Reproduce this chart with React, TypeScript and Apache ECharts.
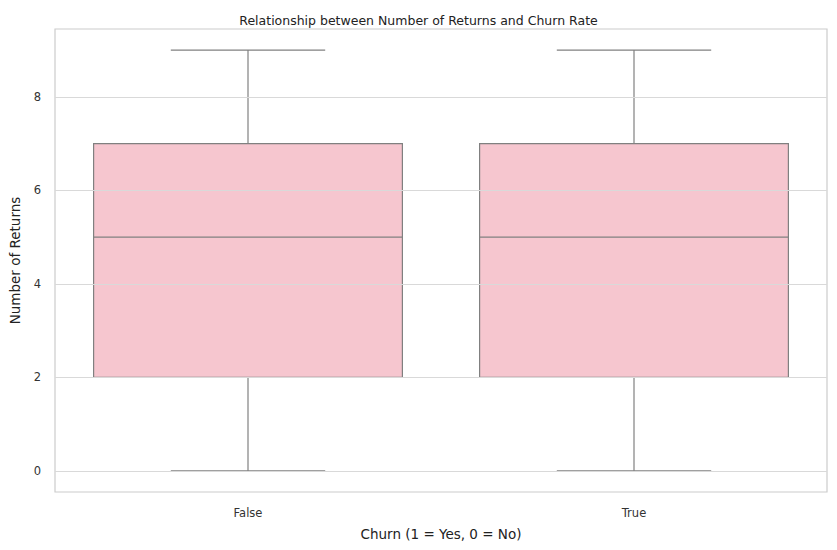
import { useEffect, useRef } from 'react';
import * as echarts from 'echarts';

const categories = ['False', 'True'];
// [min, q1, median, q3, max]
const boxStats = [
  [0, 2, 5, 7, 9],
  [0, 2, 5, 7, 9]
];
const yTicks = [0, 2, 4, 6, 8];

const App = () => {
  const chartRef = useRef<HTMLDivElement>(null);

  useEffect(() => {
    if (!chartRef.current) return;
    const myChart = echarts.init(chartRef.current, null, { renderer: 'svg' });
    const lineColor = '#808080';

    const option = {
      animation: false,
      title: {
        text: 'Relationship between Number of Returns and Churn Rate',
        left: 'center',
        top: 9,
        textStyle: { color: '#222', fontSize: 12.5, fontWeight: 'normal', fontFamily: 'DejaVu Sans' }
      },
      grid: { left: 52, right: 10, top: 29, bottom: 58, show: true, borderColor: '#cccccc', borderWidth: 1.2 },
      xAxis: {
        type: 'category',
        data: categories,
        axisLine: { show: false },
        axisTick: { show: false },
        axisLabel: { color: '#333', fontSize: 11.5, margin: 15, fontFamily: 'DejaVu Sans' },
        name: 'Churn (1 = Yes, 0 = No)',
        nameLocation: 'middle',
        nameGap: 35,
        nameTextStyle: { color: '#222', fontSize: 13.5, fontFamily: 'DejaVu Sans' }
      },
      yAxis: {
        type: 'value',
        min: -0.45,
        max: 9.45,
        axisLine: { show: false },
        axisTick: { show: false },
        splitLine: { show: false },
        axisLabel: { color: '#333', fontSize: 11.5, margin: 14, fontFamily: 'DejaVu Sans', customValues: yTicks },
        name: 'Number of Returns',
        nameLocation: 'middle',
        nameGap: 33,
        nameTextStyle: { color: '#222', fontSize: 13.5, fontFamily: 'DejaVu Sans' }
      },
      series: [
        {
          type: 'custom',
          data: boxStats.map((s, i) => [i, ...s]),
          encode: { x: 0, y: [1, 2, 3, 4, 5] },
          z: 3,
          markLine: {
            silent: true,
            symbol: 'none',
            label: { show: false },
            lineStyle: { color: '#d9d9d9', width: 1.2, type: 'solid' },
            data: yTicks.map((v) => ({ yAxis: v }))
          },
          renderItem: (params: any, api: any) => {
            const idx = api.value(0);
            const w = api.size([1, 0])[0] * 0.8;
            const pMin = api.coord([idx, api.value(1)]);
            const pQ1 = api.coord([idx, api.value(2)]);
            const pMed = api.coord([idx, api.value(3)]);
            const pQ3 = api.coord([idx, api.value(4)]);
            const pMax = api.coord([idx, api.value(5)]);
            const x = pMed[0];
            const ls = { stroke: lineColor, lineWidth: 1.2 };
            return {
              type: 'group',
              children: [
                { type: 'line', shape: { x1: x, y1: pMin[1], x2: x, y2: pQ1[1] }, style: ls },
                { type: 'line', shape: { x1: x, y1: pQ3[1], x2: x, y2: pMax[1] }, style: ls },
                { type: 'line', shape: { x1: x - w / 4, y1: pMin[1], x2: x + w / 4, y2: pMin[1] }, style: ls },
                { type: 'line', shape: { x1: x - w / 4, y1: pMax[1], x2: x + w / 4, y2: pMax[1] }, style: ls },
                {
                  type: 'rect',
                  shape: { x: x - w / 2, y: pQ3[1], width: w, height: pQ1[1] - pQ3[1] },
                  style: { fill: '#f6c6cf', stroke: lineColor, lineWidth: 1.2 }
                },
                { type: 'line', shape: { x1: x - w / 2, y1: pMed[1], x2: x + w / 2, y2: pMed[1] }, style: ls }
              ]
            };
          }
        }
      ]
    };

    myChart.setOption(option);
    return () => myChart.dispose();
  }, []);

  return (
    <div
      ref={chartRef}
      style={{ position: 'fixed', left: 0, top: 0, width: 837, height: 550, background: '#fff' }}
    />
  );
};

export default App;
